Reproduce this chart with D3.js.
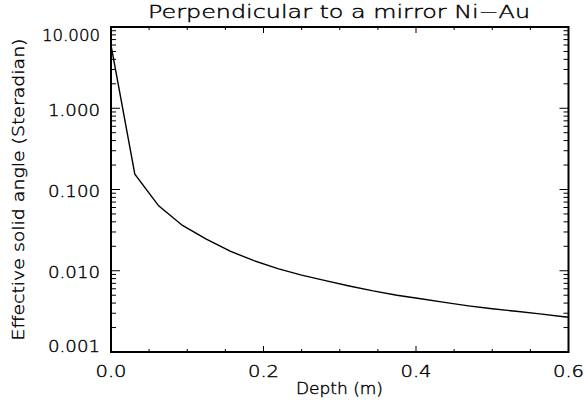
<!DOCTYPE html>
<html>
<head>
<meta charset="utf-8">
<script src="https://cdn.jsdelivr.net/npm/d3@7"></script>
<style>
  html, body { margin: 0; padding: 0; background: #fff; }
  svg { display: block; }
  text { font-family: "DejaVu Sans", sans-serif; font-weight: 200; fill: #000; stroke: #000; stroke-width: 0.4px; }
</style>
</head>
<body>
<svg id="chart" width="584" height="408"></svg>
<script>
// ---- data ----
const depth = [0, 0.03125, 0.0625, 0.09375, 0.125, 0.15625, 0.1875, 0.21875, 0.25,
  0.28125, 0.3125, 0.34375, 0.375, 0.40625, 0.4375, 0.46875, 0.5, 0.53125, 0.5625,
  0.59375, 0.625];
const solidAngle = [6.0, 0.1545, 0.0630, 0.0361, 0.0245, 0.0174, 0.0133, 0.01064, 0.00883,
  0.00756, 0.00650, 0.00565, 0.00500, 0.00452, 0.00408, 0.00370, 0.00340, 0.00317, 0.00295,
  0.00272, 0.00252];
const xTicks = [0, 0.2, 0.4, 0.6];
const xTickLabels = ["0.0", "0.2", "0.4", "0.6"];
const yTicks = [10, 1, 0.1, 0.01, 0.001];
const yTickLabels = ["10.000", "1.000", "0.100", "0.010", "0.001"];
const titleText = "Perpendicular to a mirror Ni\u2212Au";
const xTitle = "Depth (m)";
const yTitle = "Effective solid angle (Steradian)";

// ---- layout ----
const L = 111, R = 568.5, T = 27, B = 352;
const svg = d3.select("#chart");
const x = d3.scaleLinear().domain([0, 0.6]).range([L, R]);
const y = d3.scaleLog().domain([0.001, 10]).range([B, T]);

// minor ticks
const xMinor = d3.range(0, 0.6001, 0.05).filter(v => !xTicks.some(t => Math.abs(t - v) < 1e-9));
const yMinor = [];
[0.001, 0.01, 0.1, 1].forEach(d => { for (let k = 2; k <= 9; k++) yMinor.push(d * k); });

const g = svg.append("g");

svg.append("defs").append("clipPath").attr("id", "clip")
  .append("rect").attr("x", L).attr("y", T).attr("width", R - L).attr("height", B - T);

// data line
const line = d3.line().x((d, i) => x(depth[i])).y((d, i) => y(solidAngle[i]));
g.append("path").datum(solidAngle).attr("d", line)
  .attr("clip-path", "url(#clip)")
  .attr("fill", "none").attr("stroke", "#000").attr("stroke-width", 1.4);

// ticks
const tk = g.append("g").attr("stroke", "#000").attr("stroke-width", 1);
xTicks.forEach(v => {
  tk.append("line").attr("x1", x(v)).attr("x2", x(v)).attr("y1", B).attr("y2", B - 6);
  tk.append("line").attr("x1", x(v)).attr("x2", x(v)).attr("y1", T).attr("y2", T + 6);
});
xMinor.forEach(v => {
  tk.append("line").attr("x1", x(v)).attr("x2", x(v)).attr("y1", B).attr("y2", B - 3);
  tk.append("line").attr("x1", x(v)).attr("x2", x(v)).attr("y1", T).attr("y2", T + 3);
});
yTicks.forEach(v => {
  tk.append("line").attr("x1", L).attr("x2", L + 9).attr("y1", y(v)).attr("y2", y(v));
  tk.append("line").attr("x1", R).attr("x2", R - 9).attr("y1", y(v)).attr("y2", y(v));
});
yMinor.forEach(v => {
  tk.append("line").attr("x1", L).attr("x2", L + 5).attr("y1", y(v)).attr("y2", y(v));
  tk.append("line").attr("x1", R).attr("x2", R - 5).attr("y1", y(v)).attr("y2", y(v));
});

// frame
g.append("rect").attr("x", L).attr("y", T).attr("width", R - L).attr("height", B - T)
  .attr("fill", "none").attr("stroke", "#000").attr("stroke-width", 2);

// x tick labels
xTicks.forEach((v, i) => {
  g.append("text").attr("x", x(v)).attr("y", 376.5).attr("text-anchor", "middle")
    .attr("font-size", 16).attr("textLength", 31).attr("lengthAdjust", "spacingAndGlyphs")
    .text(xTickLabels[i]);
});
// y tick labels
yTicks.forEach((v, i) => {
  let base = y(v) + 7.5;
  if (i === 0) base = T + 14;
  if (i === yTicks.length - 1) base = B;
  const lbl = yTickLabels[i];
  g.append("text").attr("x", 100).attr("y", base).attr("text-anchor", "end")
    .attr("font-size", 16).attr("textLength", lbl.length === 6 ? 58 : 52).attr("lengthAdjust", "spacingAndGlyphs")
    .text(lbl);
});

// titles
svg.append("text").attr("x", 339).attr("y", 17.5).attr("text-anchor", "middle")
  .attr("font-size", 17.5).attr("textLength", 382).attr("lengthAdjust", "spacingAndGlyphs")
  .text(titleText);
svg.append("text").attr("x", 339.5).attr("y", 394).attr("text-anchor", "middle")
  .attr("font-size", 16).attr("textLength", 87).attr("lengthAdjust", "spacingAndGlyphs")
  .text(xTitle);
svg.append("text").attr("transform", "translate(23.5," + ((T + B) / 2) + ") rotate(-90)")
  .attr("text-anchor", "middle")
  .attr("font-size", 16).attr("textLength", 302).attr("lengthAdjust", "spacingAndGlyphs")
  .text(yTitle);
</script>
</body>
</html>
